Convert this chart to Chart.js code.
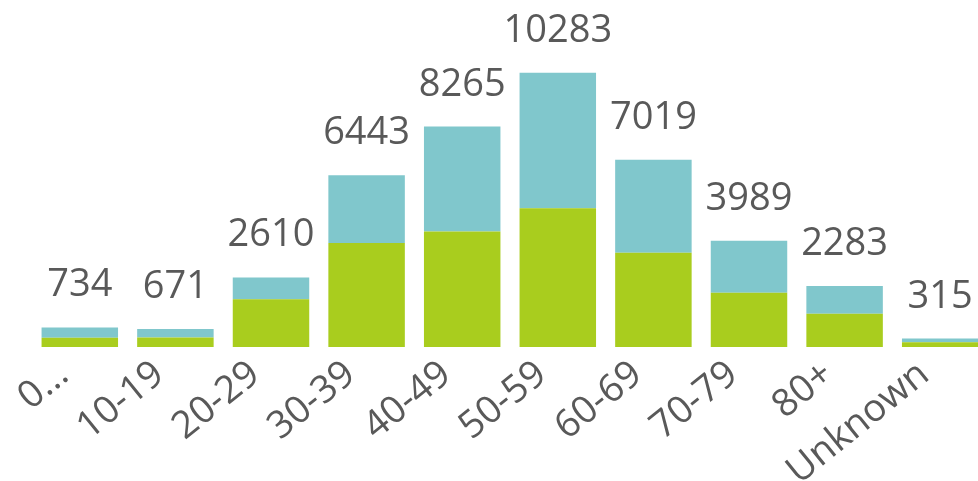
<!DOCTYPE html>
<html>
<head>
<meta charset="utf-8">
<script src="https://cdn.jsdelivr.net/npm/chart.js@4.4.1/dist/chart.umd.min.js"></script>
<style>
  html, body { margin: 0; padding: 0; background: #fff; overflow: hidden; }
  #wrap { position: relative; width: 1000px; height: 481px; }
</style>
</head>
<body>
<div id="wrap"><canvas id="chart"></canvas></div>
<script>
const ageGroups = ["0...", "10-19", "20-29", "30-39", "40-49", "50-59", "60-69", "70-79", "80+", "Unknown"]
const greenValues = [345, 355, 1790, 3900, 4330, 5200, 3530, 2030, 1250, 180]
const tealValues  = [389, 316, 820, 2543, 3935, 5083, 3489, 1959, 1033, 135]

const green = "#A9CD1E"
const teal = "#80C7CC"
const textColor = "#595959"
const fontFamily = "'Open Sans', 'Noto Sans', sans-serif"

// totals printed over each stack
const totals = ageGroups.map((_, i) => greenValues[i] + tealValues[i])

const totalLabels = {
  id: "totalLabels",
  afterDatasetsDraw(chart) {
    const { ctx } = chart
    const topMeta = chart.getDatasetMeta(1)
    ctx.save()
    ctx.font = `38px ${fontFamily}`
    ctx.fillStyle = textColor
    ctx.textAlign = "center"
    ctx.textBaseline = "alphabetic"
    topMeta.data.forEach((bar, i) => {
      ctx.fillText(String(totals[i]), bar.x, bar.y - 31)
    })
    ctx.restore()
  }
}

new Chart(document.getElementById("chart"), {
  type: "bar",
  data: {
    labels: ageGroups,
    datasets: [
      { label: "Green", data: greenValues, backgroundColor: green },
      { label: "Teal", data: tealValues, backgroundColor: teal }
    ]
  },
  options: {
    responsive: true,
    maintainAspectRatio: false,
    animation: false,
    categoryPercentage: 1,
    barPercentage: 0.8,
    layout: {
      autoPadding: false,
      padding: { left: 32, right: 12, top: 27, bottom: 0 }
    },
    plugins: {
      legend: { display: false },
      tooltip: { enabled: false }
    },
    scales: {
      x: {
        stacked: true,
        grid: { display: false, drawTicks: false },
        border: { display: false },
        ticks: {
          color: textColor,
          font: { family: fontFamily, size: 38 },
          minRotation: 39,
          maxRotation: 39,
          autoSkip: false,
          padding: 5,
          labelOffset: -16
        },
        afterFit(scale) { scale.height = 134 }
      },
      y: {
        stacked: true,
        display: false,
        min: 0,
        max: 12000
      }
    }
  },
  plugins: [totalLabels]
})
</script>
</body>
</html>
